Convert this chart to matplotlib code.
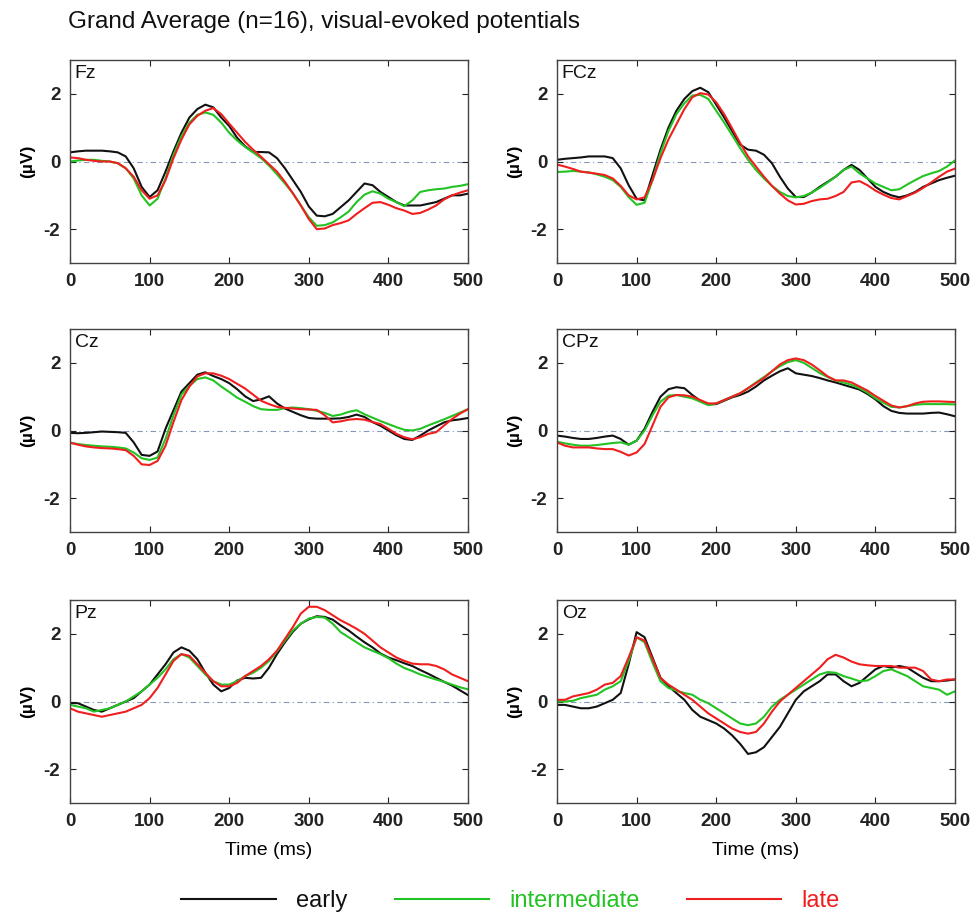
import matplotlib
matplotlib.use("Agg")
import matplotlib.pyplot as plt
from matplotlib.lines import Line2D

plt.rcParams['font.family'] = ['Liberation Sans', 'DejaVu Sans']
plt.rcParams['axes.unicode_minus'] = False

# time axis (ms), one sample every 10 ms
time_ms = list(range(0, 501, 10))

# ---- Fz
fz_early = [0.27, 0.30, 0.32, 0.32, 0.32, 0.30, 0.27, 0.15, -0.20, -0.75,
            -1.05, -0.85, -0.30, 0.30, 0.85, 1.30, 1.55, 1.68, 1.60, 1.30,
            1.05, 0.70, 0.45, 0.28, 0.28, 0.27, 0.10, -0.20, -0.55, -0.90,
            -1.33, -1.60, -1.62, -1.55, -1.35, -1.15, -0.90, -0.65, -0.70, -0.90,
            -1.05, -1.20, -1.30, -1.30, -1.30, -1.25, -1.20, -1.10, -1.00, -1.00,
            -0.95]
fz_inter = [0.00, 0.03, 0.05, 0.05, 0.02, 0.00, -0.05, -0.20, -0.50, -1.00,
            -1.30, -1.10, -0.50, 0.20, 0.75, 1.15, 1.38, 1.45, 1.38, 1.15,
            0.85, 0.62, 0.43, 0.27, 0.10, -0.12, -0.38, -0.65, -0.94, -1.30,
            -1.65, -1.90, -1.88, -1.80, -1.65, -1.48, -1.20, -0.98, -0.88, -0.95,
            -1.10, -1.20, -1.32, -1.15, -0.90, -0.85, -0.82, -0.80, -0.75, -0.72,
            -0.67]
fz_late = [0.12, 0.10, 0.05, 0.02, 0.00, 0.00, -0.05, -0.20, -0.45, -0.85,
           -1.10, -1.00, -0.55, 0.10, 0.65, 1.10, 1.35, 1.50, 1.58, 1.40,
           1.12, 0.85, 0.58, 0.35, 0.14, -0.08, -0.30, -0.60, -0.94, -1.30,
           -1.70, -2.00, -1.98, -1.88, -1.82, -1.74, -1.55, -1.38, -1.22, -1.20,
           -1.28, -1.38, -1.45, -1.55, -1.52, -1.42, -1.30, -1.12, -1.00, -0.92,
           -0.85]

# ---- FCz
fcz_early = [0.05, 0.08, 0.10, 0.12, 0.15, 0.15, 0.15, 0.10, -0.20, -0.70,
             -1.10, -1.15, -0.40, 0.35, 1.00, 1.50, 1.85, 2.08, 2.18, 2.05,
             1.68, 1.30, 0.90, 0.50, 0.35, 0.32, 0.20, -0.05, -0.45, -0.80,
             -1.05, -1.05, -0.92, -0.75, -0.60, -0.45, -0.25, -0.10, -0.25, -0.50,
             -0.75, -0.90, -1.00, -1.06, -1.00, -0.90, -0.75, -0.65, -0.55, -0.48,
             -0.42]
fcz_inter = [-0.31, -0.30, -0.28, -0.30, -0.32, -0.38, -0.45, -0.55, -0.75, -1.05,
             -1.28, -1.22, -0.55, 0.25, 0.90, 1.40, 1.72, 1.95, 1.97, 1.85,
             1.50, 1.15, 0.78, 0.40, 0.05, -0.25, -0.50, -0.72, -0.90, -1.02,
             -1.06, -1.02, -0.92, -0.78, -0.62, -0.45, -0.25, -0.15, -0.35, -0.50,
             -0.65, -0.75, -0.85, -0.82, -0.68, -0.55, -0.43, -0.35, -0.28, -0.15,
             0.03]
fcz_late = [-0.09, -0.15, -0.22, -0.30, -0.33, -0.36, -0.40, -0.50, -0.72, -1.00,
            -1.12, -1.06, -0.55, 0.10, 0.65, 1.10, 1.55, 1.90, 2.02, 1.98,
            1.75, 1.40, 0.98, 0.55, 0.15, -0.15, -0.45, -0.72, -0.95, -1.15,
            -1.27, -1.25, -1.17, -1.12, -1.10, -1.02, -0.90, -0.62, -0.58, -0.70,
            -0.86, -0.98, -1.08, -1.12, -1.02, -0.92, -0.78, -0.62, -0.45, -0.30,
            -0.21]

# ---- Cz
cz_early = [-0.07, -0.08, -0.07, -0.05, -0.03, -0.04, -0.05, -0.07, -0.35, -0.72,
            -0.75, -0.62, 0.05, 0.60, 1.15, 1.40, 1.65, 1.72, 1.61, 1.52,
            1.40, 1.22, 1.01, 0.87, 0.92, 1.01, 0.80, 0.65, 0.55, 0.45,
            0.37, 0.35, 0.35, 0.35, 0.36, 0.40, 0.47, 0.40, 0.25, 0.14,
            0.00, -0.14, -0.25, -0.28, -0.15, 0.00, 0.12, 0.24, 0.30, 0.33,
            0.37]
cz_inter = [-0.36, -0.40, -0.43, -0.45, -0.47, -0.48, -0.50, -0.53, -0.65, -0.82,
            -0.87, -0.80, -0.25, 0.45, 1.06, 1.32, 1.52, 1.57, 1.48, 1.30,
            1.14, 0.97, 0.85, 0.72, 0.63, 0.61, 0.61, 0.66, 0.68, 0.66,
            0.63, 0.58, 0.52, 0.43, 0.47, 0.55, 0.60, 0.48, 0.38, 0.28,
            0.19, 0.10, 0.02, 0.00, 0.05, 0.15, 0.24, 0.33, 0.43, 0.53,
            0.63]
cz_late = [-0.36, -0.42, -0.47, -0.50, -0.52, -0.53, -0.55, -0.58, -0.75, -1.00,
           -1.02, -0.90, -0.45, 0.25, 0.90, 1.30, 1.60, 1.69, 1.69, 1.62,
           1.52, 1.38, 1.24, 1.06, 0.88, 0.78, 0.70, 0.67, 0.65, 0.63,
           0.62, 0.61, 0.45, 0.24, 0.27, 0.32, 0.34, 0.32, 0.25, 0.19,
           0.05, -0.10, -0.20, -0.26, -0.20, -0.10, -0.05, 0.15, 0.34, 0.50,
           0.63]

# ---- CPz
cpz_early = [-0.15, -0.18, -0.22, -0.25, -0.25, -0.22, -0.18, -0.15, -0.25, -0.42,
             -0.30, 0.05, 0.55, 1.00, 1.22, 1.28, 1.25, 1.05, 0.88, 0.77,
             0.78, 0.88, 0.98, 1.05, 1.15, 1.30, 1.48, 1.62, 1.75, 1.84,
             1.69, 1.65, 1.61, 1.55, 1.48, 1.42, 1.35, 1.28, 1.21, 1.08,
             0.92, 0.72, 0.58, 0.52, 0.50, 0.50, 0.50, 0.52, 0.53, 0.48,
             0.42]
cpz_inter = [-0.33, -0.38, -0.42, -0.45, -0.45, -0.43, -0.40, -0.37, -0.35, -0.42,
             -0.30, 0.00, 0.45, 0.85, 1.03, 1.05, 1.00, 0.95, 0.85, 0.75,
             0.80, 0.90, 1.00, 1.10, 1.25, 1.42, 1.58, 1.75, 1.90, 2.02,
             2.08, 2.00, 1.85, 1.70, 1.58, 1.48, 1.42, 1.35, 1.25, 1.12,
             0.95, 0.82, 0.70, 0.68, 0.72, 0.76, 0.78, 0.78, 0.78, 0.78,
             0.77]
cpz_late = [-0.35, -0.45, -0.50, -0.50, -0.50, -0.53, -0.55, -0.55, -0.63, -0.74,
            -0.65, -0.40, 0.15, 0.70, 0.98, 1.05, 1.04, 1.00, 0.90, 0.80,
            0.80, 0.90, 1.00, 1.10, 1.25, 1.40, 1.55, 1.75, 1.95, 2.08,
            2.13, 2.08, 1.95, 1.78, 1.60, 1.48, 1.48, 1.42, 1.30, 1.18,
            1.02, 0.88, 0.74, 0.68, 0.72, 0.80, 0.85, 0.86, 0.86, 0.85,
            0.84]

# ---- Pz
pz_early = [-0.05, -0.05, -0.15, -0.25, -0.30, -0.20, -0.10, 0.00, 0.10, 0.30,
            0.50, 0.80, 1.10, 1.45, 1.60, 1.50, 1.25, 0.85, 0.50, 0.30,
            0.40, 0.62, 0.70, 0.68, 0.70, 1.00, 1.40, 1.75, 2.06, 2.30,
            2.43, 2.52, 2.50, 2.42, 2.25, 2.10, 1.92, 1.75, 1.60, 1.42,
            1.30, 1.22, 1.13, 1.05, 0.93, 0.82, 0.70, 0.58, 0.47, 0.33,
            0.19]
pz_inter = [-0.10, -0.15, -0.20, -0.30, -0.25, -0.20, -0.10, 0.00, 0.15, 0.30,
            0.50, 0.70, 0.95, 1.25, 1.40, 1.30, 1.05, 0.80, 0.60, 0.50,
            0.50, 0.60, 0.75, 0.85, 1.00, 1.20, 1.48, 1.80, 2.10, 2.30,
            2.45, 2.50, 2.48, 2.30, 2.05, 1.90, 1.75, 1.60, 1.50, 1.40,
            1.28, 1.12, 0.99, 0.90, 0.80, 0.72, 0.65, 0.58, 0.50, 0.42,
            0.36]
pz_late = [-0.20, -0.30, -0.35, -0.40, -0.45, -0.40, -0.35, -0.30, -0.20, -0.10,
           0.10, 0.40, 0.80, 1.20, 1.40, 1.35, 1.10, 0.85, 0.60, 0.45,
           0.45, 0.55, 0.75, 0.90, 1.05, 1.25, 1.50, 1.85, 2.20, 2.60,
           2.80, 2.80, 2.70, 2.55, 2.40, 2.28, 2.15, 2.00, 1.80, 1.60,
           1.45, 1.30, 1.20, 1.12, 1.10, 1.10, 1.05, 0.95, 0.80, 0.70,
           0.60]

# ---- Oz
oz_early = [-0.10, -0.10, -0.15, -0.20, -0.20, -0.15, -0.05, 0.05, 0.25, 1.10,
            2.05, 1.90, 1.30, 0.70, 0.45, 0.25, 0.05, -0.25, -0.45, -0.55,
            -0.65, -0.80, -1.00, -1.25, -1.55, -1.50, -1.35, -1.05, -0.75, -0.35,
            0.05, 0.30, 0.45, 0.60, 0.80, 0.80, 0.60, 0.45, 0.55, 0.75,
            0.95, 1.05, 1.00, 1.05, 1.00, 0.85, 0.70, 0.60, 0.60, 0.62,
            0.65]
oz_inter = [0.00, 0.00, 0.02, 0.10, 0.15, 0.20, 0.35, 0.45, 0.60, 1.20,
            1.90, 1.75, 1.15, 0.60, 0.40, 0.32, 0.25, 0.20, 0.05, -0.05,
            -0.20, -0.35, -0.50, -0.65, -0.70, -0.65, -0.45, -0.15, 0.05, 0.20,
            0.35, 0.50, 0.65, 0.80, 0.87, 0.85, 0.75, 0.68, 0.60, 0.62,
            0.75, 0.90, 0.95, 0.85, 0.75, 0.60, 0.45, 0.40, 0.35, 0.20,
            0.30]
oz_late = [0.05, 0.05, 0.15, 0.20, 0.25, 0.35, 0.50, 0.55, 0.75, 1.30,
           1.90, 1.80, 1.25, 0.70, 0.50, 0.35, 0.20, 0.05, -0.15, -0.35,
           -0.50, -0.65, -0.80, -0.90, -0.95, -0.90, -0.65, -0.30, 0.00, 0.20,
           0.40, 0.60, 0.80, 1.00, 1.25, 1.38, 1.30, 1.18, 1.10, 1.07,
           1.05, 1.05, 1.05, 1.00, 1.00, 1.00, 0.90, 0.65, 0.60, 0.65,
           0.65]

channels = ["Fz", "FCz", "Cz", "CPz", "Pz", "Oz"]
channel_data = {
    "Fz": (fz_early, fz_inter, fz_late),
    "FCz": (fcz_early, fcz_inter, fcz_late),
    "Cz": (cz_early, cz_inter, cz_late),
    "CPz": (cpz_early, cpz_inter, cpz_late),
    "Pz": (pz_early, pz_inter, pz_late),
    "Oz": (oz_early, oz_inter, oz_late),
}
conditions = ["early", "intermediate", "late"]
colors = ["#111111", "#22c322", "#f01e1e"]
x_ticks = [0, 100, 200, 300, 400, 500]
y_ticks = [-2, 0, 2]

W, H = 976, 918
fig = plt.figure(figsize=(W / 100, H / 100), dpi=100)

col_left = [70, 557]
row_top = [60, 329, 600]
ax_w, ax_h = 398, 203

for i, ch in enumerate(channels):
    r, c = divmod(i, 2)
    ax = fig.add_axes([col_left[c] / W, 1 - (row_top[r] + ax_h) / H, ax_w / W, ax_h / H])
    ax.axhline(0, color="#8596b8", lw=0.8, dashes=(5, 3, 1, 3), zorder=1)
    for vals, col in zip(channel_data[ch], colors):
        ax.plot(time_ms, vals, color=col, lw=1.5, zorder=2)
    ax.set_xlim(0, 500)
    ax.set_ylim(-3, 3)
    ax.set_xticks(x_ticks)
    ax.set_yticks(y_ticks)
    ax.tick_params(direction="in", top=True, right=True, length=4, width=0.8,
                   labelsize=13.5, colors="#222222", pad=7)
    for lab in ax.get_xticklabels() + ax.get_yticklabels():
        lab.set_fontweight("bold")
    for sp in ax.spines.values():
        sp.set_color("#444444")
        sp.set_linewidth(1.0)
    ax.set_ylabel("(\u00b5V)", fontsize=12.5, fontweight="bold", labelpad=6)
    ax.text(0.012, 0.975, ch, transform=ax.transAxes, va="top", ha="left",
            fontsize=14, color="#111111")
    if r == 2:
        ax.set_xlabel("Time (ms)", fontsize=14, labelpad=9)

fig.text(68 / W, 1 - 22 / H, "Grand Average (n=16), visual-evoked potentials",
         fontsize=17.5, va="center", ha="left", color="#111111")

handles = [Line2D([], [], color=col, lw=1.5) for col in colors]
fig.legend(handles, conditions, loc="center", bbox_to_anchor=(0.523, 1 - 901 / H),
           ncol=3, frameon=False, fontsize=17, labelcolor=colors,
           handlelength=4.0, handletextpad=0.85, columnspacing=2.0)

fig.savefig("out.png", dpi=100)
